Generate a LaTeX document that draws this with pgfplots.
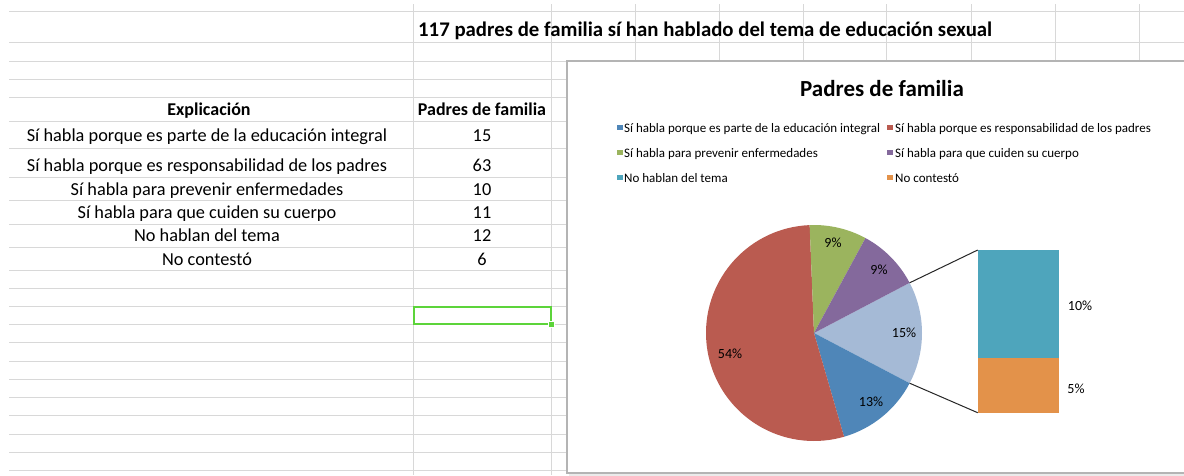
\documentclass[border=0pt]{standalone}
\usepackage{pgfplots}
\pgfplotsset{compat=1.18}
\usepackage{fontspec}
\setmainfont{Carlito}
\definecolor{sgrid}{HTML}{D8D8D8}
\definecolor{cblue}{HTML}{4F86B8}
\definecolor{cred}{HTML}{BA5B50}
\definecolor{cgreen}{HTML}{9BB45E}
\definecolor{cpurple}{HTML}{84699C}
\definecolor{cteal}{HTML}{4EA5BC}
\definecolor{corange}{HTML}{E3924A}
\definecolor{cother}{HTML}{A5BAD6}
\definecolor{selgreen}{HTML}{5CD43A}
\definecolor{cframe}{HTML}{B4B4B4}
% data
\def\va{15}\def\vb{63}\def\vc{10}\def\vd{11}\def\ve{12}\def\vf{6}
\begin{document}
\begin{tikzpicture}[x=1pt,y=1pt]
\pgfmathsetmacro{\tot}{\va+\vb+\vc+\vd+\ve+\vf}
\pgfmathsetmacro{\unit}{360/\tot}
\pgfmathsetmacro{\tO}{\unit*(\ve+\vf)}
\pgfmathsetmacro{\sA}{-\tO/2}
\pgfmathsetmacro{\eA}{\tO/2}
\pgfmathsetmacro{\sB}{\sA-\unit*\va}
\pgfmathsetmacro{\sC}{\sB-\unit*\vb}
\pgfmathsetmacro{\sD}{\sC-\unit*\vc}
\pgfmathsetmacro{\sE}{\sD-\unit*\vd}
\begin{axis}[
  at={(0,0)}, anchor=south west,
  scale only axis, width=1184pt, height=475pt,
  xmin=0, xmax=1184, ymin=0, ymax=475, y dir=reverse,
  hide axis, clip=false]
% spreadsheet grid
\pgfplotsinvokeforeach{11,42.7,61,79.3,97.7,121.7,148.3,177.3,200.7,224,247.3,270.7,288.3,306.7,324,342.7,361,379,397.3,415.7,434,452.3,470.7}{
  \draw[sgrid, line width=1pt] (axis cs:9,#1) -- (axis cs:1184,#1);
}
\pgfplotsinvokeforeach{413,551.7,635,719,803.3,886.7,971,1055,1139.3}{
  \draw[sgrid, line width=1pt] (axis cs:#1,4) -- (axis cs:#1,475);
}
% sheet texts
\node[anchor=base west, inner sep=0pt, font=\fontsize{20.8}{22}\selectfont\bfseries] at (axis cs:418,36) {117 padres de familia sí han hablado del tema de educación sexual};
\node[anchor=base, font=\fontsize{18}{20}\selectfont\bfseries] at (axis cs:209,115) {Explicación};
\node[anchor=base, font=\fontsize{18}{20}\selectfont\bfseries] at (axis cs:482,115) {Padres de familia};
\begin{scope}[every node/.style={anchor=base, font=\fontsize{18.3}{20}\selectfont}]
\node at (axis cs:207,141.7) {Sí habla porque es parte de la educación integral};
\node at (axis cs:207,171.7) {Sí habla porque es responsabilidad de los padres};
\node at (axis cs:207,195) {Sí habla para prevenir enfermedades};
\node at (axis cs:207,218) {Sí habla para que cuiden su cuerpo};
\node at (axis cs:207,241.7) {No hablan del tema};
\node at (axis cs:207,265) {No contestó};
\node at (axis cs:482,141.7) {\va};
\node at (axis cs:482,171.7) {\vb};
\node at (axis cs:482,195) {\vc};
\node at (axis cs:482,218) {\vd};
\node at (axis cs:482,241.7) {\ve};
\node at (axis cs:482,265) {\vf};
\end{scope}
% selected cell
\draw[selgreen, line width=2pt] (axis cs:413.5,307) rectangle (axis cs:551,324);
\fill[selgreen, draw=white, line width=0.6pt] (axis cs:548,321) rectangle (axis cs:554,327);
% chart frame
\fill[black!8] (axis cs:569,63) rectangle (axis cs:1200,476);
\draw[cframe, line width=1.6pt, fill=white] (axis cs:567,61) rectangle (axis cs:1200,473);
% chart title
\node[anchor=base, font=\fontsize{23}{24}\selectfont\bfseries] at (axis cs:882,96) {Padres de familia};
% legend
\begin{scope}[every node/.style={anchor=base west, font=\fontsize{13}{14}\selectfont, inner sep=0pt}]
\fill[cblue]   (axis cs:616.7,124.5) rectangle (axis cs:622.7,130);
\node at (axis cs:624,132) {Sí habla porque es parte de la educación integral};
\fill[cred]    (axis cs:887.3,124.5) rectangle (axis cs:893.3,130);
\node at (axis cs:895,132) {Sí habla porque es responsabilidad de los padres};
\fill[cgreen]  (axis cs:616.7,149.5) rectangle (axis cs:622.7,155);
\node at (axis cs:624,157) {Sí habla para prevenir enfermedades};
\fill[cpurple] (axis cs:887.3,149.5) rectangle (axis cs:893.3,155);
\node at (axis cs:895,157) {Sí habla para que cuiden su cuerpo};
\fill[cteal]   (axis cs:616.7,174.5) rectangle (axis cs:622.7,180);
\node at (axis cs:624,182) {No hablan del tema};
\fill[corange] (axis cs:887.3,174.5) rectangle (axis cs:893.3,180);
\node at (axis cs:895,182) {No contestó};
\end{scope}
% pie of bar
\fill[cother]  (axis cs:814,333) -- ++(\sA:108pt) arc[start angle=\sA, end angle=\eA, radius=108pt] -- cycle;
\fill[cblue]   (axis cs:814,333) -- ++(\sB:108pt) arc[start angle=\sB, end angle=\sA, radius=108pt] -- cycle;
\fill[cred]    (axis cs:814,333) -- ++(\sC:108pt) arc[start angle=\sC, end angle=\sB, radius=108pt] -- cycle;
\fill[cgreen]  (axis cs:814,333) -- ++(\sD:108pt) arc[start angle=\sD, end angle=\sC, radius=108pt] -- cycle;
\fill[cpurple] (axis cs:814,333) -- ++(\sE:108pt) arc[start angle=\sE, end angle=\sD, radius=108pt] -- cycle;
\draw[black!85, line width=1pt] (axis cs:814,333) ++(\eA:108pt) -- (axis cs:977.7,250);
\draw[black!85, line width=1pt] (axis cs:814,333) ++(\sA:108pt) -- (axis cs:977.7,412.7);
\begin{scope}[every node/.style={font=\fontsize{14}{15}\selectfont}]
\node at (axis cs:833,243) {9\%};
\node at (axis cs:879,270) {9\%};
\node at (axis cs:904,333) {15\%};
\node at (axis cs:871,402) {13\%};
\node at (axis cs:730,354) {54\%};
\node at (axis cs:1080,306) {10\%};
\node at (axis cs:1076,389) {5\%};
\end{scope}
\end{axis}
% second pie: stacked bar
\begin{axis}[
  at={(977.7pt,62.3pt)}, anchor=south west,
  scale only axis, width=81.6pt, height=162.7pt,
  xmin=-0.5, xmax=0.5, ymin=0, ymax=18,
  hide axis, ybar stacked, bar width=81.6pt]
\addplot[fill=corange, draw=none] coordinates {(0,\vf)};
\addplot[fill=cteal, draw=none] coordinates {(0,\ve)};
\end{axis}
\pgfresetboundingbox
\path[use as bounding box] (0,0) rectangle (1184pt,475pt);
\end{tikzpicture}
\end{document}
